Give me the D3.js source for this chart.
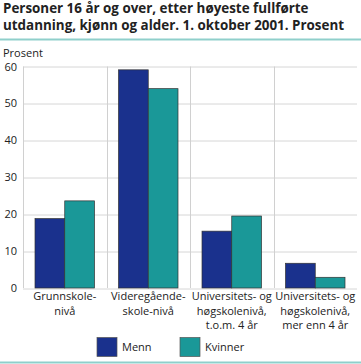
<!DOCTYPE html>
<html>
<head>
<meta charset="utf-8">
<script src="https://cdn.jsdelivr.net/npm/d3@7"></script>
<style>
  body { margin: 0; background: #fff; }
  text { font-family: "Open Sans", sans-serif; fill: #222; }
</style>
</head>
<body>
<div id="chart"></div>
<script>
// data
var categories = ["Grunnskole", "Videregående", "Univ. kort", "Univ. lang"];
var categoryLabels = [
  ["Grunnskole-", "nivå"],
  ["Videregående-", "skole-nivå"],
  ["Universitets- og", "høgskolenivå,", "t.o.m. 4 år"],
  ["Universitets- og", "høgskolenivå,", "mer enn 4 år"]
];
var seriesNames = ["Menn", "Kvinner"];
var menn = [18.8, 59.1, 15.4, 6.7];
var kvinner = [23.6, 54.0, 19.5, 2.9];
var yTicks = [0, 10, 20, 30, 40, 50, 60];
var colors = ["#1a318d", "#1a9898"];

var svg_width = 361, svg_height = 364;
var margin = { top: 66.5, right: 4, bottom: 76, left: 23 };
var width = svg_width - margin.left - margin.right;
var height = svg_height - margin.top - margin.bottom;

var svg = d3.select("#chart").append("svg")
  .attr("width", svg_width)
  .attr("height", svg_height);

// title
var title = svg.append("text")
  .attr("x", 3)
  .attr("y", 13)
  .style("font-weight", "bold")
  .style("font-size", "13.4px");
title.append("tspan").attr("x", 3).attr("dy", 0)
  .text("Personer 16 år og over, etter høyeste fullførte");
title.append("tspan").attr("x", 3).attr("dy", 17)
  .text("utdanning, kjønn og alder. 1. oktober 2001. Prosent");

// teal rules top and bottom
svg.append("rect").attr("x", 0).attr("y", 38.5).attr("width", svg_width).attr("height", 2).attr("fill", "#8fcfcb");
svg.append("rect").attr("x", 0).attr("y", 361.5).attr("width", svg_width).attr("height", 2).attr("fill", "#8fcfcb");

svg.append("text")
  .attr("x", 3).attr("y", 57)
  .style("font-size", "11px")
  .text("Prosent");

var chartGroup = svg.append("g")
  .attr("transform", `translate(${margin.left}, ${margin.top})`);

var x0 = d3.scaleBand().domain(categories).range([0, width]);
var x1 = d3.scaleBand().domain(seriesNames).range([12, x0.bandwidth() - 12]);
var y = d3.scaleLinear().domain([0, 60]).range([height, 0]);

// horizontal gridlines
chartGroup.selectAll(".hgrid").data(yTicks).enter().append("line")
  .attr("x1", 0).attr("x2", width)
  .attr("y1", d => Math.round(y(d)) + 0.5)
  .attr("y2", d => Math.round(y(d)) + 0.5)
  .attr("stroke", "#d6d6d6");

// vertical lines between categories + left axis line
chartGroup.selectAll(".vgrid").data(categories).enter().append("line")
  .attr("x1", d => Math.round(x0(d)) + 0.5)
  .attr("x2", d => Math.round(x0(d)) + 0.5)
  .attr("y1", 0).attr("y2", height)
  .attr("stroke", "#d0d0d0");

// y tick labels
var leftAxis = d3.axisLeft(y).tickValues(yTicks).tickSize(0).tickPadding(6);
var yAxis = chartGroup.append("g").call(leftAxis);
yAxis.select(".domain").remove();
yAxis.selectAll("text")
  .style("font-size", "11px")
  .style("font-family", "'Open Sans', sans-serif")
  .attr("fill", "#222");

// bars
var rows = categories.map((c, i) => ({ cat: c, values: [menn[i], kvinner[i]] }));
var groups = chartGroup.selectAll(".grp").data(rows).enter().append("g")
  .attr("transform", d => `translate(${x0(d.cat)},0)`);
groups.selectAll("rect")
  .data(d => d.values.map((v, j) => ({ name: seriesNames[j], value: v, j: j })))
  .enter().append("rect")
  .attr("x", d => x1(d.name))
  .attr("y", d => y(d.value))
  .attr("width", x1.bandwidth())
  .attr("height", d => height - y(d.value))
  .attr("fill", d => colors[d.j])
  .attr("stroke", "#333")
  .attr("stroke-width", 0.7);

// category labels
var labelG = chartGroup.selectAll(".lbl").data(categories).enter().append("text")
  .attr("text-anchor", "middle")
  .attr("y", height + 12)
  .style("font-size", "11px");
labelG.each(function(d, i) {
  var t = d3.select(this);
  categoryLabels[i].forEach(function(line, k) {
    t.append("tspan")
      .attr("x", x0(d) + x0.bandwidth() / 2)
      .attr("dy", k === 0 ? 0 : 14.5)
      .text(line);
  });
});

// legend
var legend = svg.append("g");
var legendX = [97, 180];
seriesNames.forEach(function(name, i) {
  legend.append("rect")
    .attr("x", legendX[i]).attr("y", 337.5)
    .attr("width", 20).attr("height", 19)
    .attr("fill", colors[i])
    .attr("stroke", "#555").attr("stroke-width", 0.7);
  legend.append("text")
    .attr("x", legendX[i] + 25).attr("y", 351)
    .style("font-size", "11px")
    .text(name);
});
</script>
</body>
</html>
